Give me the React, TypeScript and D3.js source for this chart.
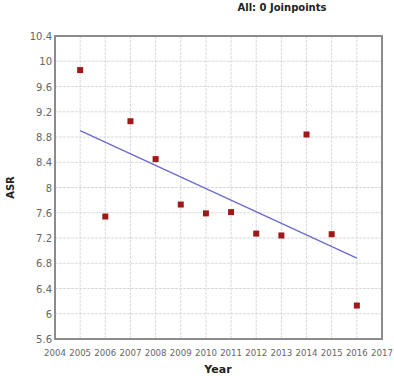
import React from "react";
import * as d3 from "d3";

const years = [2005, 2006, 2007, 2008, 2009, 2010, 2011, 2012, 2013, 2014, 2015, 2016];
const asr = [9.86, 7.54, 9.05, 8.45, 7.73, 7.59, 7.61, 7.27, 7.24, 8.84, 7.26, 6.13];
const fitYears = [2005, 2016];
const fitValues = [8.9, 6.88];
const xTicks = d3.range(2004, 2018);
const yTicks = [5.6, 6, 6.4, 6.8, 7.2, 7.6, 8, 8.4, 8.8, 9.2, 9.6, 10, 10.4];
const title = "All: 0 Joinpoints";

export default function App() {
  const W = 394, H = 376;
  const m = { l: 55, t: 36, r: 382, b: 339 };
  const x = d3.scaleLinear().domain([2004, 2017]).range([m.l, m.r]);
  const y = d3.scaleLinear().domain([5.6, 10.4]).range([m.b, m.t]);
  const line = d3.line<number>().x((d, i) => x(fitYears[i])).y((d) => y(d));
  const font = "Verdana, 'DejaVu Sans', sans-serif";
  return (
    <svg width={W} height={H} style={{ position: "absolute", left: 0, top: 0, background: "#fff" }}>
      <rect x={0} y={0} width={W} height={H} fill="#fff" />
      {xTicks.map((t) => (
        <line key={"gx" + t} x1={x(t)} x2={x(t)} y1={m.t} y2={m.b} stroke="#dadada" strokeWidth={1} strokeDasharray="3,1" />
      ))}
      {yTicks.map((t) => (
        <line key={"gy" + t} x1={m.l} x2={m.r} y1={y(t)} y2={y(t)} stroke="#dadada" strokeWidth={1} strokeDasharray="3,1" />
      ))}
      <rect x={m.l} y={m.t} width={m.r - m.l} height={m.b - m.t} fill="none" stroke="#8c8c8c" strokeWidth={2} />
      {yTicks.map((t) => (
        <text key={"ty" + t} x={m.l - 3} y={y(t) + 4} textAnchor="end" fontSize={10} fill="#666" fontFamily={font}>
          {d3.format("~g")(t)}
        </text>
      ))}
      {xTicks.map((t) => (
        <text key={"tx" + t} x={x(t)} y={356} textAnchor="middle" fontSize={8.6} fill="#666" fontFamily={font}>
          {t}
        </text>
      ))}
      <path d={line(fitValues) || ""} fill="none" stroke="#6a6ad0" strokeWidth={1.3} />
      {years.map((yr, i) => (
        <rect key={"p" + yr} x={x(yr) - 3} y={y(asr[i]) - 3} width={6} height={6} fill="#a01818" />
      ))}
      <text x={282} y={11} textAnchor="middle" fontSize={10} fontWeight="bold" fill="#222" fontFamily={font}>
        {title}
      </text>
      <text x={218} y={373} textAnchor="middle" fontSize={11} fontWeight="bold" fill="#222" fontFamily={font}>
        Year
      </text>
      <text transform={`translate(14,${(m.t + m.b) / 2}) rotate(-90)`} textAnchor="middle" fontSize={10} fontWeight="bold" fill="#222" fontFamily={font}>
        ASR
      </text>
    </svg>
  );
}
